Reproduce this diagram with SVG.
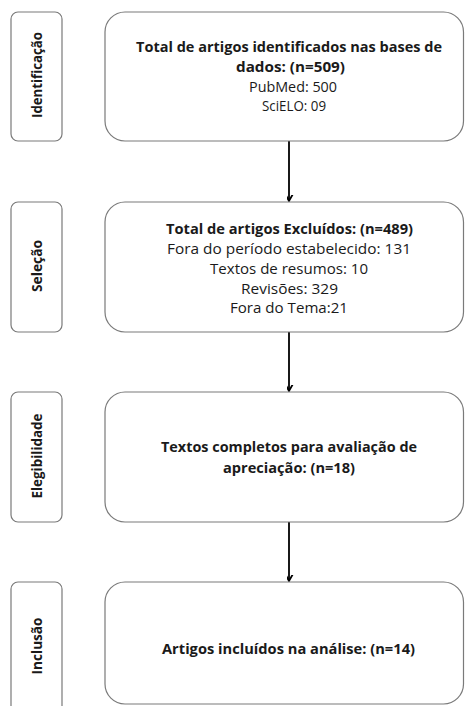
<svg xmlns="http://www.w3.org/2000/svg" width="465" height="706" viewBox="0 0 465 706">
<style>
.side{fill:#fff;stroke:#7a7a7a;stroke-width:1.2}
.main{fill:#fff;stroke:#7a7a7a;stroke-width:1.2}
text{font-family:"Open Sans","Liberation Sans",Arial,sans-serif;fill:#1a1a1a;text-anchor:middle}
.b{font-weight:bold;font-size:14px}
.r{font-size:14px}
.lbl{font-weight:bold;font-size:13.5px}
.conn{stroke:#000;stroke-width:1.8;fill:none}
</style>
<defs>
<marker id="ah" markerUnits="userSpaceOnUse" markerWidth="12" markerHeight="12" viewBox="-6 -10 12 12" refX="0" refY="0" orient="auto-start-reverse">
<path d="M-4.5,-8 L0,0 L4.5,-8" transform="rotate(-90)" fill="none" stroke="#000" stroke-width="1.8"/>
</marker>
</defs>
<g id="connectors">
<line class="conn" x1="289" y1="141" x2="289" y2="201" marker-end="url(#ah)"/>
<line class="conn" x1="289" y1="332" x2="289" y2="391" marker-end="url(#ah)"/>
<line class="conn" x1="289" y1="522" x2="289" y2="581" marker-end="url(#ah)"/>
</g>
<g id="label-identificacao">
<rect class="side" x="11" y="12" width="51" height="129" rx="7"/>
<text class="lbl" transform="translate(41.5,75) rotate(-90)" textLength="86" lengthAdjust="spacingAndGlyphs">Identificação</text>
</g>
<g id="label-selecao">
<rect class="side" x="11" y="202" width="51" height="130" rx="7"/>
<text class="lbl" transform="translate(41.5,266) rotate(-90)" textLength="52" lengthAdjust="spacingAndGlyphs">Seleção</text>
</g>
<g id="label-elegibilidade">
<rect class="side" x="11" y="392" width="51" height="130" rx="7"/>
<text class="lbl" transform="translate(41.5,456) rotate(-90)" textLength="85" lengthAdjust="spacingAndGlyphs">Elegibilidade</text>
</g>
<g id="label-inclusao">
<rect class="side" x="11" y="582" width="51" height="140" rx="7"/>
<text class="lbl" transform="translate(41.5,646) rotate(-90)" textLength="57" lengthAdjust="spacingAndGlyphs">Inclusão</text>
</g>
<g id="node-identificacao">
<rect class="main" x="105" y="12" width="358.5" height="129" rx="20"/>
<text class="b" x="289" y="51.5" textLength="306" lengthAdjust="spacingAndGlyphs">Total de artigos identificados nas bases de</text>
<text class="b" x="290.5" y="71.5" textLength="109" lengthAdjust="spacingAndGlyphs">dados: (n=509)</text>
<text class="r" x="293" y="91.5" textLength="88" lengthAdjust="spacingAndGlyphs">PubMed: 500</text>
<text class="r" x="294" y="111" textLength="64" lengthAdjust="spacingAndGlyphs">SciELO: 09</text>
</g>
<g id="node-selecao">
<rect class="main" x="105" y="202" width="358.5" height="130" rx="20"/>
<text class="b" x="289.5" y="233.5" textLength="247" lengthAdjust="spacingAndGlyphs">Total de artigos Excluídos: (n=489)</text>
<text class="r" x="289" y="253.5" textLength="244" lengthAdjust="spacingAndGlyphs">Fora do período estabelecido: 131</text>
<text class="r" x="289" y="273.5" textLength="158" lengthAdjust="spacingAndGlyphs">Textos de resumos: 10</text>
<text class="r" x="289.5" y="293.5" textLength="97" lengthAdjust="spacingAndGlyphs">Revisões: 329</text>
<text class="r" x="289" y="313" textLength="118" lengthAdjust="spacingAndGlyphs">Fora do Tema:21</text>
</g>
<g id="node-elegibilidade">
<rect class="main" x="105" y="392" width="358.5" height="130" rx="20"/>
<text class="b" x="289" y="452" textLength="256" lengthAdjust="spacingAndGlyphs">Textos completos para avaliação de</text>
<text class="b" x="289" y="472.5" textLength="132" lengthAdjust="spacingAndGlyphs">apreciação: (n=18)</text>
</g>
<g id="node-inclusao">
<rect class="main" x="105" y="582" width="358.5" height="122" rx="20"/>
<text class="b" x="288.5" y="653.5" textLength="253" lengthAdjust="spacingAndGlyphs">Artigos incluídos na análise: (n=14)</text>
</g>
</svg>
